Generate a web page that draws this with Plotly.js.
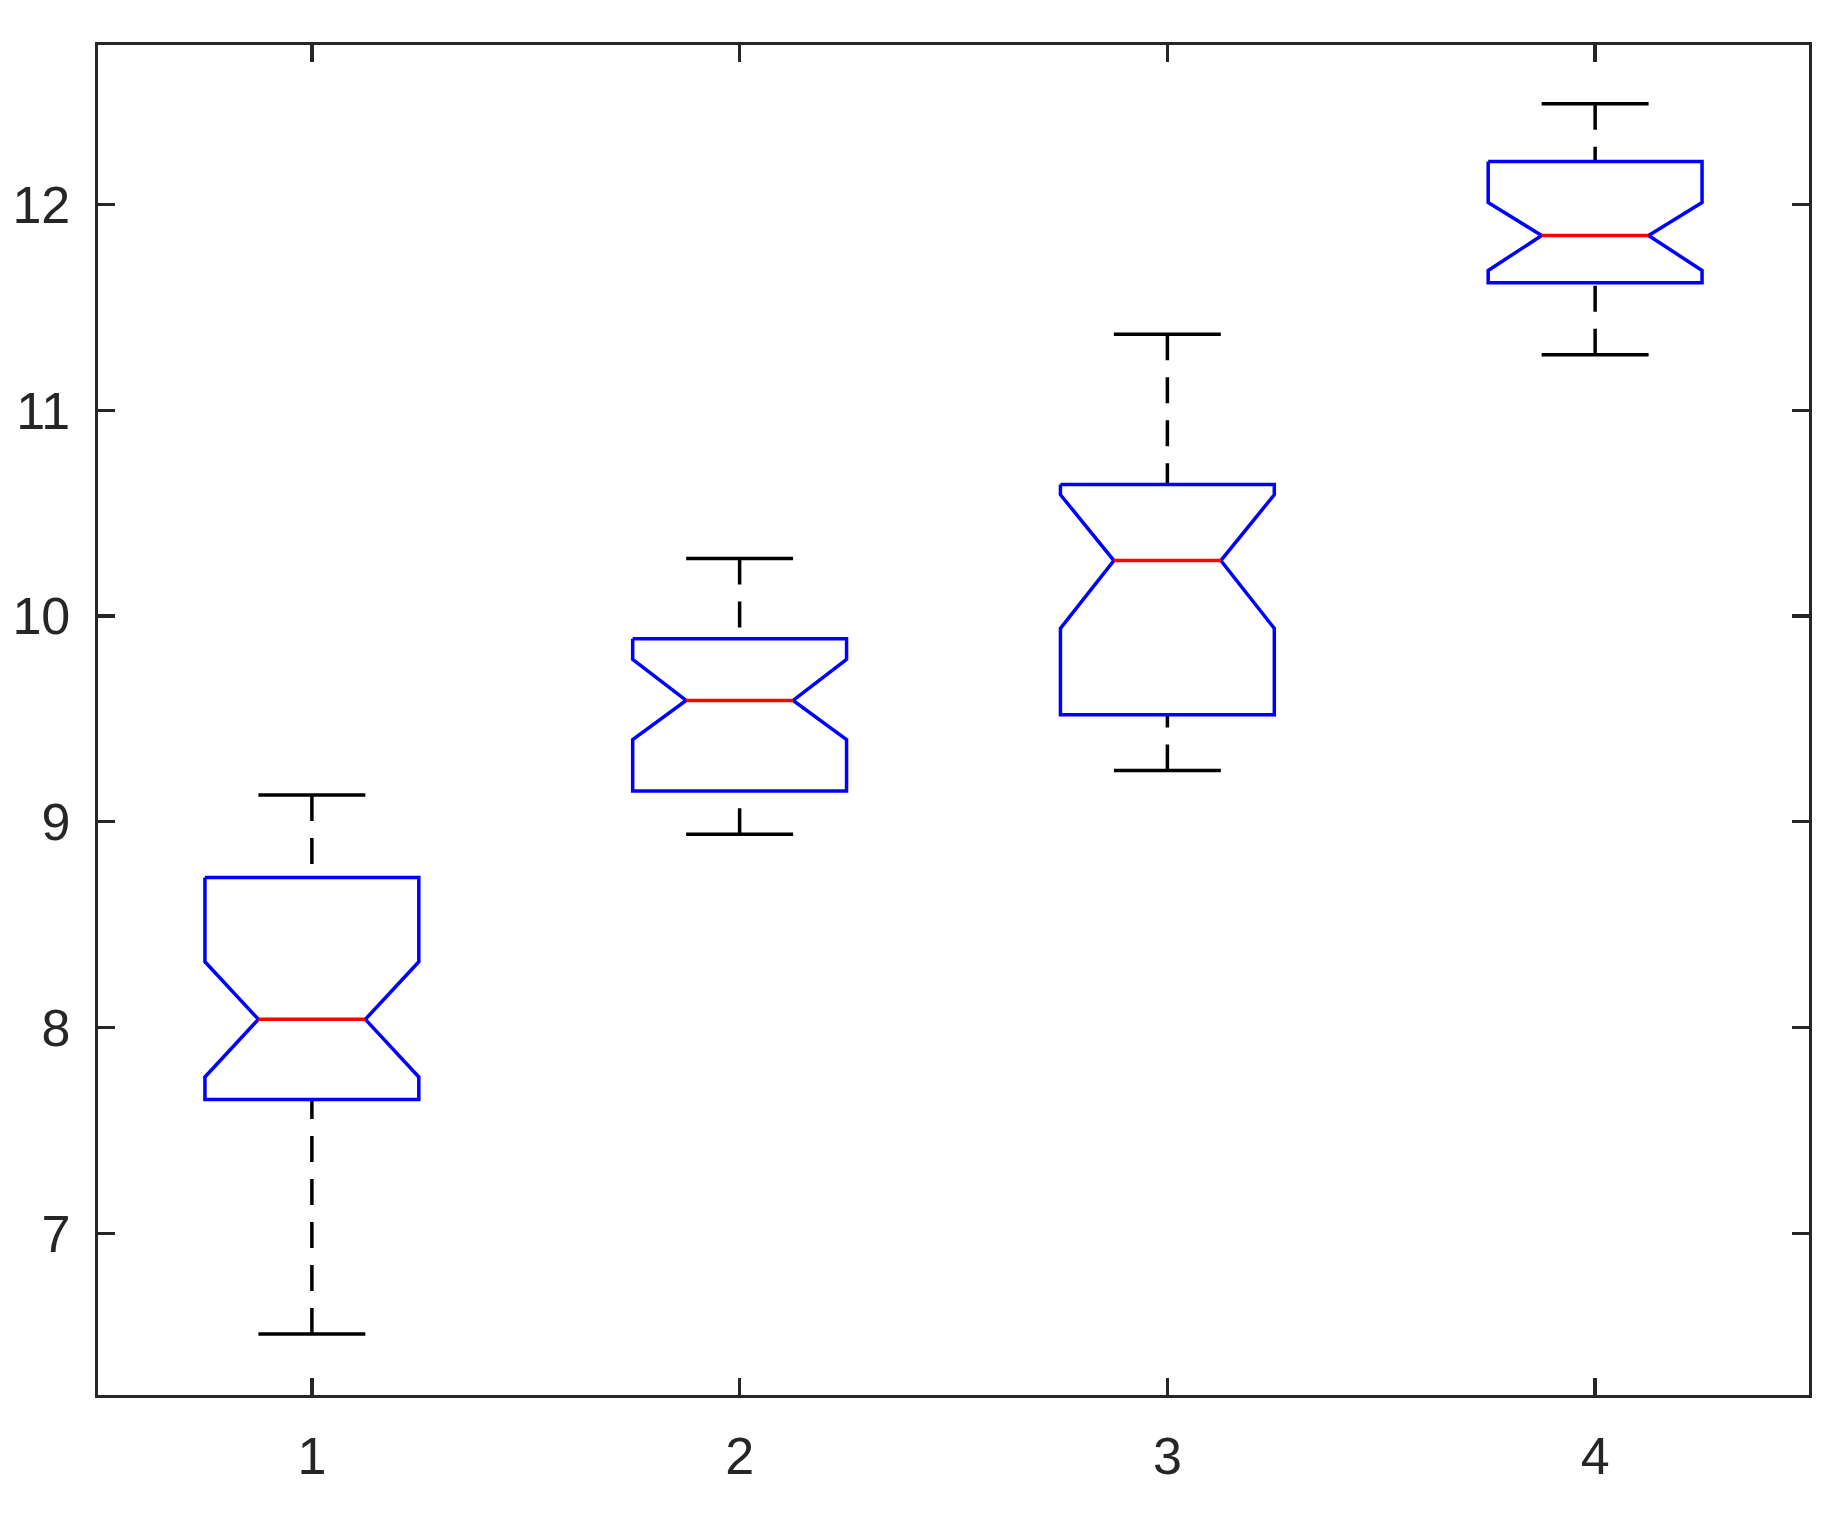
<!DOCTYPE html>
<html>
<head>
<meta charset="utf-8">
<script src="https://cdn.plot.ly/plotly-3.0.1.min.js"></script>
<style>
html,body{margin:0;padding:0;background:#fff;}
#chart{width:1846px;height:1519px;}
</style>
</head>
<body>
<div id="chart"></div>
<script>
// Data (notched box plot, 4 groups)
const groups        = [1, 2, 3, 4];
const lowerWhisker  = [6.51, 8.94, 9.25, 11.27];
const q1            = [7.65, 9.15, 9.52, 11.62];
const notchLow      = [7.76, 9.40, 9.94, 11.68];
const medians       = [8.04, 9.59, 10.27, 11.85];
const notchHigh     = [8.32, 9.79, 10.59, 12.01];
const q3            = [8.73, 9.89, 10.64, 12.21];
const upperWhisker  = [9.13, 10.28, 11.37, 12.49];
const yTicks        = [7, 8, 9, 10, 11, 12];
const xTickLabels   = ['1', '2', '3', '4'];

const boxHalf = 0.25, notchHalf = 0.125, capHalf = 0.125;
const LW = 3.5;
const traces = [];

groups.forEach((g, i) => {
  // whiskers (dashed), drawn from cap toward the box
  traces.push({
    type: 'scatter', mode: 'lines', hoverinfo: 'skip', showlegend: false,
    x: [g, g, null, g, g],
    y: [upperWhisker[i], q3[i], null, lowerWhisker[i], q1[i]],
    line: {color: '#000000', width: LW, dash: '26px,17px'}
  });
  // caps
  traces.push({
    type: 'scatter', mode: 'lines', hoverinfo: 'skip', showlegend: false,
    x: [g - capHalf, g + capHalf, null, g - capHalf, g + capHalf],
    y: [upperWhisker[i], upperWhisker[i], null, lowerWhisker[i], lowerWhisker[i]],
    line: {color: '#000000', width: LW}
  });
  // notched box outline
  traces.push({
    type: 'scatter', mode: 'lines', hoverinfo: 'skip', showlegend: false,
    x: [g - boxHalf, g + boxHalf, g + boxHalf, g + notchHalf, g + boxHalf, g + boxHalf,
        g - boxHalf, g - boxHalf, g - notchHalf, g - boxHalf, g - boxHalf],
    y: [q3[i], q3[i], notchHigh[i], medians[i], notchLow[i], q1[i],
        q1[i], notchLow[i], medians[i], notchHigh[i], q3[i]],
    line: {color: '#0000FF', width: LW}
  });
  // median
  traces.push({
    type: 'scatter', mode: 'lines', hoverinfo: 'skip', showlegend: false,
    x: [g - notchHalf, g + notchHalf],
    y: [medians[i], medians[i]],
    line: {color: '#FF0000', width: LW}
  });
});

const axisCommon = {
  showline: true, linecolor: '#262626', linewidth: 3.3, mirror: 'ticks',
  ticks: 'inside', ticklen: 17, tickwidth: 3.3, tickcolor: '#262626',
  showgrid: false, zeroline: false,
  tickfont: {family: 'Liberation Sans, Arial, sans-serif', size: 52, color: '#262626'}
};

const layout = {
  width: 1846, height: 1519,
  margin: {l: 98, r: 37, t: 45, b: 124},
  paper_bgcolor: '#ffffff', plot_bgcolor: '#ffffff',
  showlegend: false,
  xaxis: Object.assign({}, axisCommon, {
    range: [0.5, 4.5], tickmode: 'array', tickvals: groups, ticktext: xTickLabels,
    ticklabelstandoff: 13
  }),
  yaxis: Object.assign({}, axisCommon, {
    range: [6.214, 12.776], tickmode: 'array', tickvals: yTicks,
    ticktext: yTicks.map(String), ticklabelstandoff: 14
  })
};

Plotly.newPlot('chart', traces, layout, {staticPlot: true, displayModeBar: false});
</script>
</body>
</html>
